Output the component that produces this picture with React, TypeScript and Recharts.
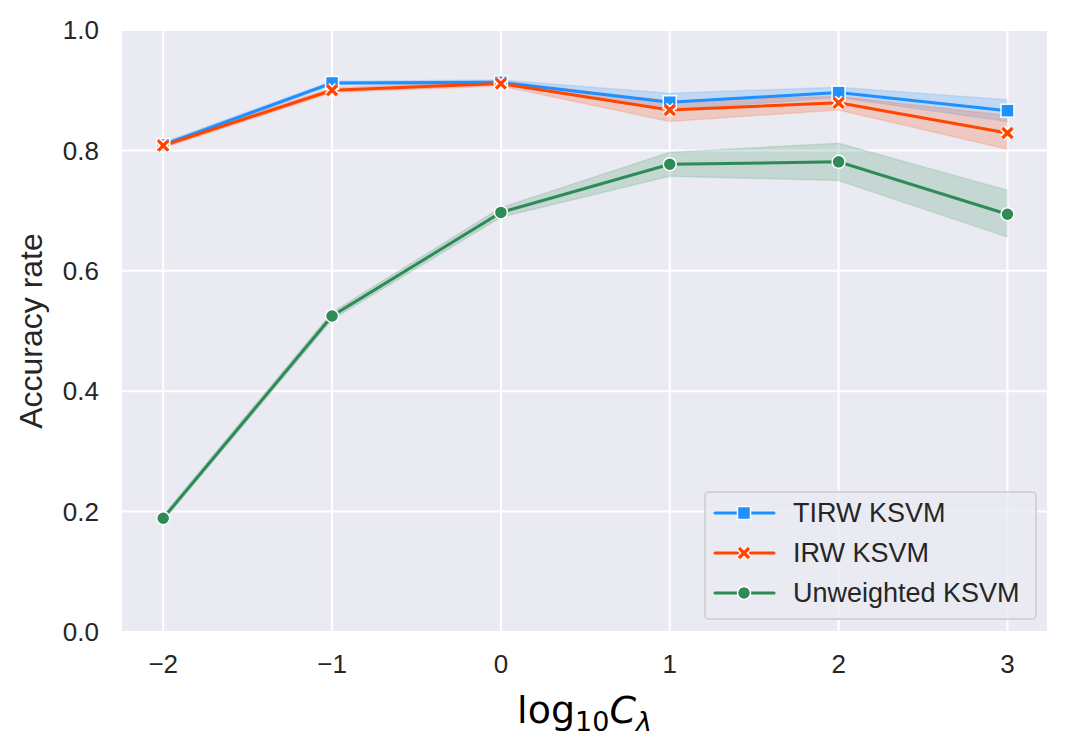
import { ComposedChart, Line, Area, XAxis, YAxis, CartesianGrid } from "recharts"

const xValues = [-2, -1, 0, 1, 2, 3]
const yTicks = [0, 0.2, 0.4, 0.6, 0.8, 1.0]

const tirwMean = [0.809, 0.912, 0.913, 0.88, 0.896, 0.866]
const tirwLow = [0.805, 0.909, 0.909, 0.867, 0.888, 0.848]
const tirwHigh = [0.813, 0.915, 0.917, 0.895, 0.905, 0.884]

const irwMean = [0.808, 0.9, 0.911, 0.867, 0.879, 0.829]
const irwLow = [0.804, 0.896, 0.907, 0.848, 0.867, 0.802]
const irwHigh = [0.812, 0.904, 0.915, 0.882, 0.89, 0.858]

const unwMean = [0.189, 0.525, 0.697, 0.777, 0.781, 0.694]
const unwLow = [0.185, 0.519, 0.689, 0.757, 0.75, 0.656]
const unwHigh = [0.194, 0.531, 0.705, 0.797, 0.812, 0.734]

const BLUE = "#1E90FF"
const RED = "#FF4500"
const GREEN = "#2E8B57"
const TEXT = "#262626"
const SANS = "'Liberation Sans', Arial, sans-serif"

const chartData = xValues.map((x, i) => ({
  x,
  tirw: tirwMean[i],
  tirwBand: [tirwLow[i], tirwHigh[i]],
  irw: irwMean[i],
  irwBand: [irwLow[i], irwHigh[i]],
  unw: unwMean[i],
  unwBand: [unwLow[i], unwHigh[i]],
}))

// marker shapes, roughly matplotlib's "s", "X" and "o" with white edges
function SquareMark({ cx, cy }: { cx: number; cy: number }) {
  return <rect x={cx - 6.5} y={cy - 6.5} width={13} height={13} fill={BLUE} stroke="#fff" strokeWidth={1.5} />
}

function CrossMark({ cx, cy }: { cx: number; cy: number }) {
  const d = `M${cx - 5},${cy - 5}L${cx + 5},${cy + 5}M${cx - 5},${cy + 5}L${cx + 5},${cy - 5}`
  return (
    <g>
      <path d={d} stroke="#fff" strokeWidth={6.5} />
      <path d={d} stroke={RED} strokeWidth={3.4} />
    </g>
  )
}

function CircleMark({ cx, cy }: { cx: number; cy: number }) {
  return <circle cx={cx} cy={cy} r={6.5} fill={GREEN} stroke="#fff" strokeWidth={1.5} />
}

const fmtX = (v: number) => (v < 0 ? `\u2212${Math.abs(v)}` : `${v}`)

function YLabel(props: any) {
  const vb = props.viewBox || { x: 0, y: 30, width: 121, height: 602 }
  const cy = vb.y + vb.height / 2
  return (
    <text
      x={31}
      y={cy}
      transform={`rotate(-90, 31, ${cy})`}
      textAnchor="middle"
      dominantBaseline="central"
      fill={TEXT}
      fontFamily={SANS}
      fontSize={32}
    >
      Accuracy rate
    </text>
  )
}

function XLabel(props: any) {
  const vb = props.viewBox || { x: 121, y: 632, width: 927, height: 122 }
  const cx = vb.x + vb.width / 2
  return (
    <text x={cx} y={vb.y + 91} textAnchor="middle" fill="#000" fontFamily="'DejaVu Sans', sans-serif" fontSize={38}>
      log
      <tspan fontSize={27} dy={8}>10</tspan>
      <tspan fontStyle="italic" dy={-8}>C</tspan>
      <tspan fontStyle="italic" fontSize={27} dy={8}>λ</tspan>
    </text>
  )
}

const legendItems = [
  { label: "TIRW KSVM", color: BLUE, mark: "square" },
  { label: "IRW KSVM", color: RED, mark: "cross" },
  { label: "Unweighted KSVM", color: GREEN, mark: "circle" },
]

function LegendBox() {
  return (
    <div
      style={{
        position: "absolute",
        left: 704,
        top: 491,
        width: 333,
        height: 129,
        boxSizing: "border-box",
        border: "2px solid #d3d3d6",
        borderRadius: 5,
        background: "rgba(234,234,242,0.8)",
      }}
    >
      {legendItems.map((item, i) => (
        <div key={item.label} style={{ position: "absolute", left: 0, top: 6 + i * 40, height: 28, width: "100%" }}>
          <svg width={70} height={28} style={{ position: "absolute", left: 7, top: 0 }}>
            <line x1={2} y1={14} x2={61} y2={14} stroke={item.color} strokeWidth={3} strokeLinecap="round" />
            {item.mark === "square" && <SquareMark cx={31} cy={14} />}
            {item.mark === "cross" && <CrossMark cx={31} cy={14} />}
            {item.mark === "circle" && <CircleMark cx={31} cy={14} />}
          </svg>
          <span
            style={{
              position: "absolute",
              left: 87,
              top: 0,
              lineHeight: "28px",
              fontFamily: SANS,
              fontSize: 27,
              color: TEXT,
              whiteSpace: "nowrap",
            }}
          >
            {item.label}
          </span>
        </div>
      ))}
    </div>
  )
}

export default function App() {
  return (
    <div style={{ position: "absolute", left: 0, top: 0, width: 1070, height: 754, background: "#fff" }}>
      <ComposedChart width={1070} height={754} data={chartData} margin={{ top: 30, right: 22, bottom: 0, left: 0 }}>
        <CartesianGrid fill="#EAEAF2" stroke="#fff" strokeWidth={2} />
        <XAxis
          type="number"
          dataKey="x"
          domain={[-2.25, 3.24]}
          ticks={xValues}
          allowDataOverflow
          axisLine={false}
          tickLine={false}
          tickSize={0}
          tickMargin={23}
          height={122}
          tickFormatter={fmtX}
          tick={{ fill: TEXT, fontSize: 26, fontFamily: SANS }}
          label={<XLabel />}
        />
        <YAxis
          type="number"
          domain={[0, 1]}
          ticks={yTicks}
          axisLine={false}
          tickLine={false}
          tickSize={0}
          tickMargin={22}
          width={121}
          tickFormatter={(v: number) => v.toFixed(1)}
          tick={{ fill: TEXT, fontSize: 26, fontFamily: SANS }}
          label={<YLabel />}
        />
        <Area
          type="linear"
          dataKey="tirwBand"
          fill={BLUE}
          fillOpacity={0.2}
          stroke={BLUE}
          strokeOpacity={0.15}
          strokeWidth={1.5}
          isAnimationActive={false}
          activeDot={false}
        />
        <Area
          type="linear"
          dataKey="irwBand"
          fill={RED}
          fillOpacity={0.2}
          stroke={RED}
          strokeOpacity={0.15}
          strokeWidth={1.5}
          isAnimationActive={false}
          activeDot={false}
        />
        <Area
          type="linear"
          dataKey="unwBand"
          fill={GREEN}
          fillOpacity={0.2}
          stroke={GREEN}
          strokeOpacity={0.15}
          strokeWidth={1.5}
          isAnimationActive={false}
          activeDot={false}
        />
        <Line
          type="linear"
          dataKey="tirw"
          stroke={BLUE}
          strokeWidth={3}
          dot={(p: any) => <SquareMark key={`s${p.index}`} cx={p.cx} cy={p.cy} />}
          activeDot={false}
          isAnimationActive={false}
        />
        <Line
          type="linear"
          dataKey="irw"
          stroke={RED}
          strokeWidth={3}
          dot={(p: any) => <CrossMark key={`x${p.index}`} cx={p.cx} cy={p.cy} />}
          activeDot={false}
          isAnimationActive={false}
        />
        <Line
          type="linear"
          dataKey="unw"
          stroke={GREEN}
          strokeWidth={3}
          dot={(p: any) => <CircleMark key={`o${p.index}`} cx={p.cx} cy={p.cy} />}
          activeDot={false}
          isAnimationActive={false}
        />
      </ComposedChart>
      <LegendBox />
    </div>
  )
}
